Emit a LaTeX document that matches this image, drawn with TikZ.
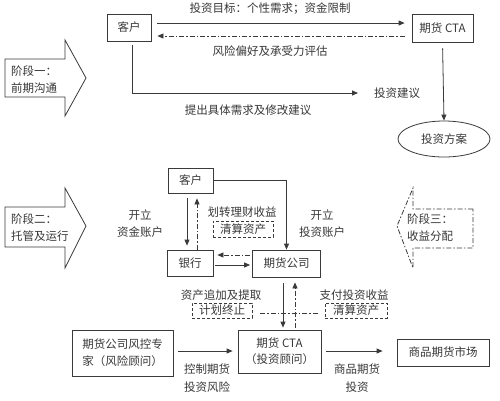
\documentclass[tikz,border=0pt]{standalone}
\usepackage{fontspec}
\setmainfont{Noto Sans CJK SC}
\usetikzlibrary{arrows.meta,shapes.geometric,calc}
\definecolor{ln}{HTML}{3A3A3A}
\definecolor{txt}{HTML}{383838}
\begin{document}
\begin{tikzpicture}[x=1pt,y=-1pt,
  every node/.style={font=\fontsize{11.5}{17}\selectfont, text=txt, inner sep=1pt},
  box/.style={draw=ln, line width=0.8pt, inner sep=0pt, align=center},
  arr/.style={draw=ln, line width=0.8pt, -{Triangle[length=6pt,width=5pt]}},
  dd/.style={dash pattern=on 5pt off 2pt on 1.5pt off 2pt},
  dbox/.style={draw=ln, line width=0.6pt, dash pattern=on 3pt off 2pt, inner sep=0pt},
  stagearrow/.style={draw=ln, line width=0.8pt, fill=white}]
\fill[white] (0,0) rectangle (500,400);
\useasboundingbox (0,0) rectangle (500,400);

% ---------- Stage 1 ----------
\draw[stagearrow] (5,59) -- (65,59) -- (65,40) -- (86,78) -- (65,116) -- (65,97) -- (5,97) -- cycle;
\node[anchor=west, align=left] (s1) at (10,79.5) {阶段一：\\前期沟通};

\node[box, minimum width=44, minimum height=27] (c1) at (129,27.5) {客户};
\node[box, minimum width=61, minimum height=28] (cta1) at (442.5,28) {期货 CTA};
\node[draw=ln, line width=0.8pt, ellipse, minimum width=92, minimum height=36, inner sep=0pt] (plan) at (444,139) {投资方案};
\node[anchor=west] (adv) at (373,93) {投资建议};
\coordinate (advpt) at (358,93);

\draw[arr, shorten <=6pt, shorten >=7pt] (c1.east |- 0,23) -- (cta1.west |- 0,23);
\draw[arr, dd, shorten <=7pt, shorten >=6pt] (cta1.west |- 0,36) -- (c1.east |- 0,36);
\node (l1) at (270,9) {投资目标：个性需求；资金限制};
\node (l2) at (270,51) {风险偏好及承受力评估};

\draw[arr, shorten <=4pt] (c1.south -| 132,0) |- (advpt);
\node (l3) at (248,110) {提出具体需求及修改建议};
\draw[arr, shorten <=6pt] (cta1.south) -- (plan.north);

% ---------- Stage 2 ----------
\draw[stagearrow] (5,207) -- (65,207) -- (65,188) -- (86,226) -- (65,268) -- (65,247) -- (5,247) -- cycle;
\node[anchor=west, align=left] (s2) at (10,227.5) {阶段二：\\托管及运行};

% ---------- Stage 3 ----------
\draw[stagearrow, dd] (473,209) -- (413,209) -- (413,188) -- (397,226) -- (413,268) -- (413,248) -- (473,248) -- cycle;
\node[anchor=west, align=left] (s3) at (406,228) {阶段三：\\收益分配};

\node[box, minimum width=45, minimum height=25] (c2) at (190.5,180.5) {客户};
\node[box, minimum width=46, minimum height=26] (bank) at (190,263) {银行};
\node[box, minimum width=68, minimum height=27] (fc) at (286.5,263.5) {期货公司};

\draw[arr] (c2.east) -| (fc.north);
\draw[arr, shorten <=5pt, shorten >=4pt] (c2.south -| 187,0) -- (bank.north -| 187,0);
\draw[arr, dd, shorten >=5pt] (bank.north -| 197,0) -- (c2.south -| 197,0);
\draw[arr, dd, shorten <=2pt, shorten >=4pt] (fc.west |- 0,255) -- (bank.east |- 0,255);
\draw[arr, shorten <=2pt, shorten >=2pt] (bank.east |- 0,265) -- (fc.west |- 0,265);

\node[align=center] (k1) at (140,224) {开立\\资金账户};
\node[align=center] (k2) at (322,224) {开立\\投资账户};
\node (h1) at (242,212) {划转理财收益};
\node[dbox, minimum width=60, minimum height=16] (q1) at (243,229) {清算资产};

\node[box, minimum width=83, minimum height=43, font=\fontsize{11.5}{16}\selectfont] (cta2) at (279.5,351.5) {期货 CTA\\（投资顾问）};
\draw[arr, shorten <=6pt, shorten >=2pt] (fc.south -| 283,0) -- (cta2.north -| 283,0);
\draw[arr, dd, shorten <=2pt, shorten >=5pt] (cta2.north -| 295,0) -- (fc.south -| 295,0);

\node (z1) at (221,295) {资产追加及提取};
\node[dbox, minimum width=60, minimum height=15] (t1) at (222,310.5) {计划终止};
\node (z2) at (354,295) {支付投资收益};
\node[dbox, minimum width=62, minimum height=15] (q2) at (356,310.5) {清算资产};
\draw[draw=ln, line width=0.8pt, dd] ($(t1.east)+(8,2.5)$) -- ($(q2.west)+(-7,2.5)$);

\node[box, minimum width=101, minimum height=46, font=\fontsize{11.5}{17}\selectfont] (risk) at (122.5,353) {期货公司风控专\\家（风险顾问）};
\draw[arr, shorten <=5pt, shorten >=5pt] (risk.east |- 0,351) -- (cta2.west |- 0,351);
\node[align=center, font=\fontsize{11.5}{18}\selectfont] (m1) at (207,378) {控制期货\\投资风险};

\node[box, minimum width=92, minimum height=27] (mkt) at (443,352.5) {商品期货市场};
\draw[arr, shorten <=5pt, shorten >=14pt] (cta2.east |- 0,351) -- (mkt.west |- 0,351);
\node[align=center, font=\fontsize{11.5}{18}\selectfont] (m2) at (357,378) {商品期货\\投资};
\end{tikzpicture}
\end{document}
